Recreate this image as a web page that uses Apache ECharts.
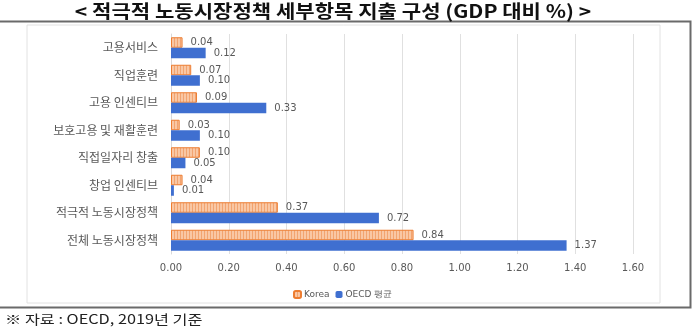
<!DOCTYPE html>
<html><head><meta charset="utf-8">
<script src="https://cdn.jsdelivr.net/npm/echarts@6/dist/echarts.min.js"></script>
<style>html,body{margin:0;padding:0;background:#fff}#c{width:699px;height:329px}</style>
</head><body><div id="c"></div>
<script>
const categories = ['고용서비스','직업훈련','고용 인센티브','보호고용 및 재활훈련','직접일자리 창출','창업 인센티브','적극적 노동시장정책','전체 노동시장정책'];
const korea = [0.04,0.07,0.09,0.03,0.10,0.04,0.37,0.84];
const oecd = [0.12,0.10,0.33,0.10,0.05,0.01,0.72,1.37];
const seriesNames = ['Korea','OECD 평균'];
const xTicks = {min:0,max:1.6,interval:0.2};

function makePattern(){
  const c = document.createElement('canvas'); c.width=3; c.height=4;
  const g = c.getContext('2d');
  g.fillStyle='#f9c7a4'; g.fillRect(0,0,3,4);
  g.fillStyle='#f2a470'; g.fillRect(0,0,1,4);
  return c;
}
const pat = {image: makePattern(), repeat:'repeat'};
const chart = echarts.init(document.getElementById('c'));
const lab = {show:true, position:'right', distance:8, color:'#595959', fontSize:10, fontFamily:'DejaVu Sans', formatter:p=>p.value.toFixed(2)};
chart.setOption({
  animation:false,
  graphic:[
    {type:'rect', shape:{x:27,y:25,width:633,height:278}, style:{fill:'none',stroke:'#e2e2e2',lineWidth:1}},
    {type:'polyline', shape:{points:[[0,21.5],[690.5,21.5],[690.5,307.5],[0,307.5]]}, style:{fill:'none',stroke:'#6a6a6a',lineWidth:2}},
    {type:'text', x:333, y:11, scaleX:1.17, style:{text:'< 적극적 노동시장정책 세부항목 지출 구성 (GDP 대비 %) >', fontSize:18, fontWeight:'bold', fill:'#111', fontFamily:'Noto Sans CJK KR', align:'center', verticalAlign:'middle'}},
    {type:'text', x:5, y:319, scaleX:1.25, style:{text:'※ 자료 : OECD, 2019년 기준', fontSize:13, fill:'#222', fontFamily:'Noto Sans CJK KR', verticalAlign:'middle'}}
  ],
  legend:{data:seriesNames, left:288, top:285, itemWidth:7, itemHeight:7, itemGap:6,
    textStyle:{color:'#595959', fontSize:9, fontFamily:'DejaVu Sans', padding:[0,0,0,-2]}},
  grid:{left:171, right:66, top:34, height:220},
  xAxis:{type:'value', min:xTicks.min, max:xTicks.max, interval:xTicks.interval,
    axisLabel:{formatter:v=>v.toFixed(2), color:'#595959', fontSize:10, fontFamily:'DejaVu Sans', margin:9},
    splitLine:{lineStyle:{color:'#e0e0e0'}}, axisLine:{show:false}, axisTick:{show:false}},
  yAxis:{type:'category', data:categories, inverse:true,
    axisLabel:{color:'#595959', fontSize:12, fontFamily:'Noto Sans CJK KR', margin:13},
    axisLine:{lineStyle:{color:'#d9d9d9'}}, axisTick:{show:false}},
  series:[
    {name:seriesNames[0], type:'bar', data:korea, barWidth:10.5, barGap:'0%',
      itemStyle:{color:pat, borderColor:'#ed7d31', borderWidth:1}, label:lab},
    {name:seriesNames[1], type:'bar', data:oecd, barWidth:10.5,
      itemStyle:{color:'#3f6fd0'}, label:lab}
  ]
});
</script></body></html>
